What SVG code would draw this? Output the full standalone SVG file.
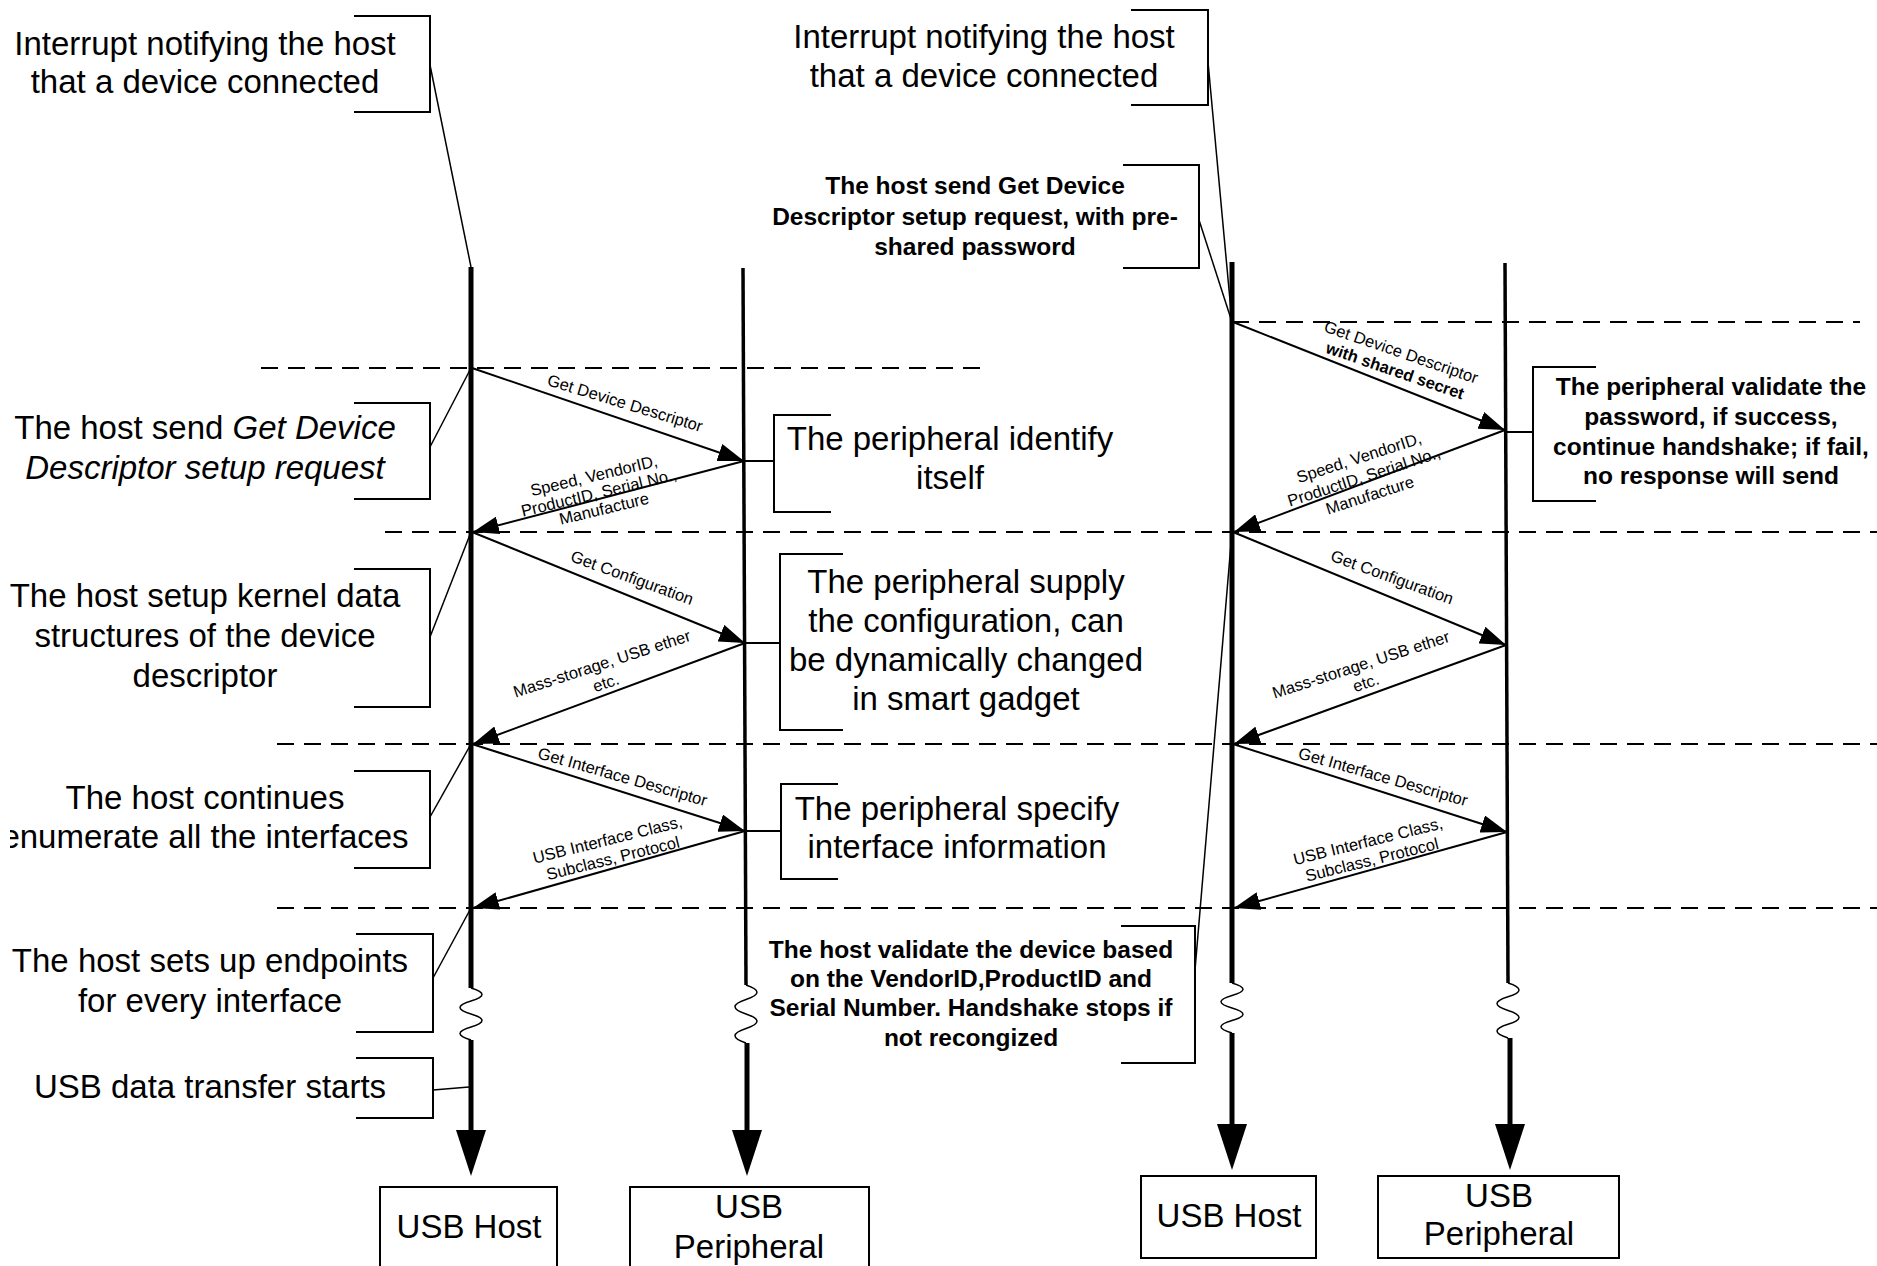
<svg xmlns="http://www.w3.org/2000/svg" width="1877" height="1266" viewBox="0 0 1877 1266">
  <style>
    .big { font-family: "Liberation Sans", Arial, sans-serif; font-size: 33px; text-anchor: middle; fill: #000; }
    .bold { font-family: "Liberation Sans", Arial, sans-serif; font-size: 24.5px; font-weight: bold; text-anchor: middle; fill: #000; }
    .lbl { font-family: "Liberation Sans", Arial, sans-serif; font-size: 16.5px; text-anchor: middle; fill: #000; }
    .lblb { font-family: "Liberation Sans", Arial, sans-serif; font-size: 16.5px; font-weight: bold; text-anchor: middle; fill: #000; }
    .br { fill: none; stroke: #000; stroke-width: 2; }
    .ld { fill: none; stroke: #000; stroke-width: 1.5; }
    .dash { stroke: #000; stroke-width: 2; stroke-dasharray: 17 10; }
    .msg { stroke: #000; stroke-width: 2; marker-end: url(#ah); }
    .life { stroke: #000; stroke-width: 5; }
    .lifeThin { stroke: #000; stroke-width: 3.5; }
    .sq { fill: none; stroke: #000; stroke-width: 1.5; }
    .box { fill: #fff; stroke: #000; stroke-width: 2; }
  </style>
  <defs>
    <marker id="ah" viewBox="0 0 26 18" refX="26" refY="9" markerWidth="26" markerHeight="18" markerUnits="userSpaceOnUse" orient="auto">
      <path d="M0,0 L26,9 L0,18 z" fill="#000"/>
    </marker>
    <path id="downArrow" d="M-15,0 L15,0 L0,46 z" fill="#000"/>
    <clipPath id="leftEdge"><rect x="10" y="0" width="1867" height="1266"/></clipPath>
  </defs>

  <rect width="1877" height="1266" fill="#fff"/>

  <!-- phase separators -->
  <g id="separators">
    <line class="dash" x1="261" y1="368" x2="985" y2="368"/>
    <line class="dash" x1="385" y1="532" x2="1877" y2="532"/>
    <line class="dash" x1="277" y1="744" x2="1877" y2="744"/>
    <line class="dash" x1="277" y1="908" x2="1877" y2="908"/>
    <line class="dash" x1="1232" y1="322" x2="1860" y2="322"/>
  </g>

  <!-- lifelines -->
  <g id="host-left">
    <line class="life" x1="471" y1="267" x2="471" y2="988"/>
    <path class="sq" d="M471,988 Q493,994.5 471,1001 T471,1014 T471,1027 T471,1040"/>
    <line class="life" x1="471" y1="1040" x2="471" y2="1131"/>
    <use href="#downArrow" x="471" y="1130"/>
    <rect class="box" x="380" y="1187" width="177" height="100"/>
    <text class="big" x="469" y="1238">USB Host</text>
  </g>
  <g id="peripheral-left">
    <line class="lifeThin" x1="743" y1="268" x2="746" y2="985"/>
    <path class="sq" d="M746,985 Q768,992.25 746,999.5 T746,1014 T746,1028.5 T746,1043"/>
    <line class="life" x1="747" y1="1043" x2="747" y2="1131"/>
    <use href="#downArrow" x="747" y="1130"/>
    <rect class="box" x="630" y="1187" width="239" height="100"/>
    <text class="big" x="749" y="1218">USB</text>
    <text class="big" x="749" y="1258">Peripheral</text>
  </g>
  <g id="host-right">
    <line class="life" x1="1232" y1="262" x2="1232" y2="983"/>
    <path class="sq" d="M1232,983 Q1254,989.25 1232,995.5 T1232,1008 T1232,1020.5 T1232,1033"/>
    <line class="life" x1="1232" y1="1033" x2="1232" y2="1125"/>
    <use href="#downArrow" x="1232" y="1124" transform="translate(0,0)"/>
    <rect class="box" x="1141" y="1176" width="175" height="82"/>
    <text class="big" x="1229" y="1227">USB Host</text>
  </g>
  <g id="peripheral-right">
    <line class="lifeThin" x1="1505" y1="263" x2="1508" y2="983"/>
    <path class="sq" d="M1508,983 Q1530,989.9 1508,996.75 T1508,1010.5 T1508,1024.25 T1508,1038"/>
    <line class="life" x1="1510" y1="1038" x2="1510" y2="1125"/>
    <use href="#downArrow" x="1510" y="1124"/>
    <rect class="box" x="1378" y="1176" width="241" height="82"/>
    <text class="big" x="1499" y="1207">USB</text>
    <text class="big" x="1499" y="1245">Peripheral</text>
  </g>

  <!-- messages, leaders and note connectors -->
  <g id="connectors">
    <line class="msg" x1="472" y1="368" x2="744" y2="461"/>
    <line class="msg" x1="744" y1="461" x2="473" y2="532"/>
    <line class="msg" x1="472" y1="532" x2="745" y2="643"/>
    <line class="msg" x1="745" y1="643" x2="473" y2="744"/>
    <line class="msg" x1="472" y1="744" x2="745" y2="831"/>
    <line class="msg" x1="745" y1="831" x2="473" y2="908"/>

    <line class="msg" x1="1233" y1="322" x2="1505" y2="430"/>
    <line class="msg" x1="1505" y1="430" x2="1234" y2="532"/>
    <line class="msg" x1="1233" y1="532" x2="1506" y2="645"/>
    <line class="msg" x1="1506" y1="645" x2="1234" y2="744"/>
    <line class="msg" x1="1233" y1="744" x2="1507" y2="832"/>
    <line class="msg" x1="1507" y1="832" x2="1234" y2="908"/>

    <line class="ld" x1="430" y1="65" x2="471" y2="267"/>
    <line class="ld" x1="430" y1="447" x2="471" y2="368"/>
    <line class="ld" x1="430" y1="637" x2="471" y2="532"/>
    <line class="ld" x1="430" y1="817" x2="471" y2="744"/>
    <line class="ld" x1="433" y1="978" x2="471" y2="908"/>
    <line class="ld" x1="433" y1="1090" x2="469" y2="1087"/>
    <line class="ld" x1="1208" y1="62" x2="1232" y2="322"/>
    <line class="ld" x1="1199" y1="220" x2="1232" y2="322"/>
    <line class="ld" x1="1195" y1="970" x2="1232" y2="532"/>

    <line class="br" x1="745" y1="461" x2="774" y2="461"/>
    <line class="br" x1="746" y1="643" x2="780" y2="643"/>
    <line class="br" x1="746" y1="831" x2="781" y2="831"/>
    <line class="br" x1="1506" y1="432" x2="1533" y2="432"/>
  </g>

  <!-- message labels -->
  <g id="message-labels">
    <text class="lbl" transform="translate(625,403.5) rotate(17)" dy="0.32em">Get Device Descriptor</text>
    <text class="lbl" transform="translate(594,476) rotate(-13.5)" dy="0.32em">Speed, VendorID,</text>
    <text class="lbl" transform="translate(599,493) rotate(-13.5)" dy="0.32em">ProductID, Serial No.,</text>
    <text class="lbl" transform="translate(604,509) rotate(-13.5)" dy="0.32em">Manufacture</text>
    <text class="lbl" transform="translate(632,578) rotate(20)" dy="0.32em">Get Configuration</text>
    <text class="lbl" transform="translate(602,664) rotate(-18)" dy="0.32em">Mass-storage, USB ether</text>
    <text class="lbl" transform="translate(606,683) rotate(-18)" dy="0.32em">etc.</text>
    <text class="lbl" transform="translate(622.5,777) rotate(16)" dy="0.32em">Get Interface Descriptor</text>
    <text class="lbl" transform="translate(607.5,840) rotate(-14)" dy="0.32em">USB Interface Class,</text>
    <text class="lbl" transform="translate(613,858.5) rotate(-14)" dy="0.32em">Subclass, Protocol</text>

    <text class="lbl" transform="translate(1401,352.5) rotate(19)" dy="0.32em">Get Device Descriptor</text>
    <text class="lblb" transform="translate(1395,371) rotate(19)" dy="0.32em">with shared secret</text>
    <text class="lbl" transform="translate(1359,458) rotate(-18)" dy="0.32em">Speed, VendorID,</text>
    <text class="lbl" transform="translate(1364,477) rotate(-18)" dy="0.32em">ProductID, Serial No.,</text>
    <text class="lbl" transform="translate(1370,495.5) rotate(-18)" dy="0.32em">Manufacture</text>
    <text class="lbl" transform="translate(1392,577.5) rotate(20)" dy="0.32em">Get Configuration</text>
    <text class="lbl" transform="translate(1361,665) rotate(-18)" dy="0.32em">Mass-storage, USB ether</text>
    <text class="lbl" transform="translate(1366,683) rotate(-18)" dy="0.32em">etc.</text>
    <text class="lbl" transform="translate(1383,777) rotate(16)" dy="0.32em">Get Interface Descriptor</text>
    <text class="lbl" transform="translate(1368,841.5) rotate(-14)" dy="0.32em">USB Interface Class,</text>
    <text class="lbl" transform="translate(1372,860) rotate(-14)" dy="0.32em">Subclass, Protocol</text>
  </g>

  <!-- host-side notes, left scenario -->
  <g id="note-interrupt-left">
    <path class="br" d="M354,16 H430 V112 H354"/>
    <text class="big" x="205" y="55">Interrupt notifying the host</text>
    <text class="big" x="205" y="93">that a device connected</text>
  </g>
  <g id="note-get-descriptor-left">
    <path class="br" d="M354,403 H430 V499 H354"/>
    <text class="big" x="205" y="439">The host send <tspan font-style="italic">Get Device</tspan></text>
    <text class="big" x="205" y="479" font-style="italic">Descriptor setup request</text>
  </g>
  <g id="note-kernel-left">
    <path class="br" d="M354,569 H430 V707 H354"/>
    <text class="big" x="205" y="607">The host setup kernel data</text>
    <text class="big" x="205" y="647">structures of the device</text>
    <text class="big" x="205" y="687">descriptor</text>
  </g>
  <g id="note-enumerate-left">
    <path class="br" d="M354,771 H430 V868 H354"/>
    <text class="big" x="205" y="809">The host continues</text>
    <text class="big" x="205" y="848" clip-path="url(#leftEdge)">enumerate all the interfaces</text>
  </g>
  <g id="note-endpoints-left">
    <path class="br" d="M356,934 H433 V1032 H356"/>
    <text class="big" x="210" y="972">The host sets up endpoints</text>
    <text class="big" x="210" y="1012">for every interface</text>
  </g>
  <g id="note-transfer-left">
    <path class="br" d="M356,1058 H433 V1118 H356"/>
    <text class="big" x="210" y="1098">USB data transfer starts</text>
  </g>

  <!-- peripheral-side notes, left scenario -->
  <g id="note-identify">
    <path class="br" d="M831,415 H774 V512 H831"/>
    <text class="big" x="950" y="450">The peripheral identify</text>
    <text class="big" x="950" y="489">itself</text>
  </g>
  <g id="note-configuration">
    <path class="br" d="M843,554 H780 V730 H843"/>
    <text class="big" x="966" y="593">The peripheral supply</text>
    <text class="big" x="966" y="632">the configuration, can</text>
    <text class="big" x="966" y="671">be dynamically changed</text>
    <text class="big" x="966" y="710">in smart gadget</text>
  </g>
  <g id="note-interface">
    <path class="br" d="M838,784 H781 V879 H838"/>
    <text class="big" x="957" y="820">The peripheral specify</text>
    <text class="big" x="957" y="858">interface information</text>
  </g>

  <!-- notes, right scenario -->
  <g id="note-interrupt-right">
    <path class="br" d="M1131,10 H1208 V105 H1131"/>
    <text class="big" x="984" y="48">Interrupt notifying the host</text>
    <text class="big" x="984" y="87">that a device connected</text>
  </g>
  <g id="note-password-request">
    <path class="br" d="M1123,165 H1199 V268 H1123"/>
    <text class="bold" x="975" y="194">The host send Get Device</text>
    <text class="bold" x="975" y="225">Descriptor setup request, with pre-</text>
    <text class="bold" x="975" y="255">shared password</text>
  </g>
  <g id="note-password-check">
    <path class="br" d="M1596,367 H1533 V501 H1596"/>
    <text class="bold" x="1711" y="395">The peripheral validate the</text>
    <text class="bold" x="1711" y="425">password, if success,</text>
    <text class="bold" x="1711" y="455">continue handshake; if fail,</text>
    <text class="bold" x="1711" y="484">no response will send</text>
  </g>
  <g id="note-device-check">
    <path class="br" d="M1121,926 H1195 V1063 H1121"/>
    <text class="bold" x="971" y="958">The host validate the device based</text>
    <text class="bold" x="971" y="987">on the VendorID,ProductID and</text>
    <text class="bold" x="971" y="1016">Serial Number. Handshake stops if</text>
    <text class="bold" x="971" y="1046">not recongized</text>
  </g>
</svg>
